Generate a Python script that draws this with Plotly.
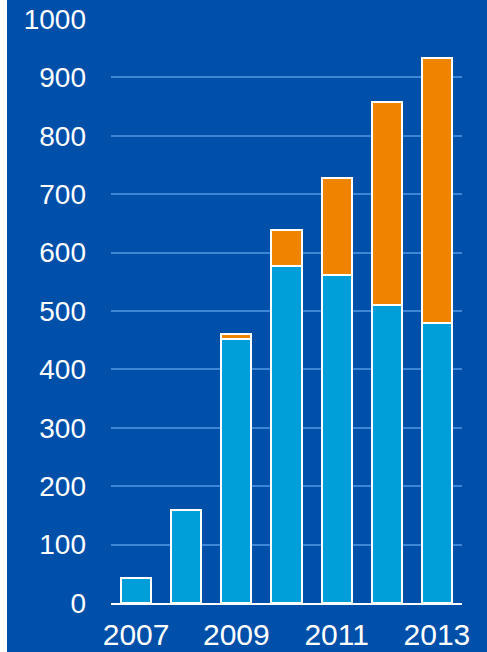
import plotly.graph_objects as go

years = [2007, 2008, 2009, 2010, 2011, 2012, 2013]
base_values = [43, 160, 452, 577, 561, 510, 479]
extra_values = [0, 0, 8, 61, 166, 348, 455]
y_ticks = [0, 100, 200, 300, 400, 500, 600, 700, 800, 900, 1000]
x_ticks = [2007, 2009, 2011, 2013]

BG = "#0050AA"
BLUE = "#009FDA"
ORANGE = "#F08300"
GRID = "#3F85D6"
FONT = "Liberation Sans, Arial, sans-serif"

fig = go.Figure()
fig.add_trace(go.Bar(
    x=years, y=base_values, width=0.6,
    marker=dict(color=BLUE, line=dict(color="white", width=2)),
))
fig.add_trace(go.Bar(
    x=years, y=extra_values, width=0.6,
    marker=dict(color=ORANGE, line=dict(color="white", width=2)),
))

fig.update_layout(
    barmode="stack",
    width=487, height=652,
    margin=dict(l=111, r=25, t=19, b=49, pad=0),
    paper_bgcolor=BG, plot_bgcolor=BG,
    showlegend=False,
    font=dict(family=FONT, color="white"),
    xaxis=dict(
        range=[2006.5, 2013.5], tickvals=x_ticks, ticktext=[str(v) for v in x_ticks],
        showgrid=False, zeroline=False, showline=True, linecolor="white", linewidth=2,
        ticks="", tickfont=dict(size=30, color="white"), ticklabelstandoff=4,
        automargin=False,
    ),
    yaxis=dict(
        range=[0, 1000], tickvals=y_ticks, showgrid=True, gridcolor=GRID, gridwidth=2,
        zeroline=False, showline=False, ticks="",
        tickfont=dict(size=28, color="white"), ticklabelstandoff=24,
        automargin=False,
    ),
    shapes=[dict(
        type="rect", xref="paper", yref="paper",
        x0=-111 / 351, x1=-104 / 351, y0=-1, y1=2,
        fillcolor="white", line=dict(width=0), layer="above",
    )],
)

fig.write_html("out.html")
